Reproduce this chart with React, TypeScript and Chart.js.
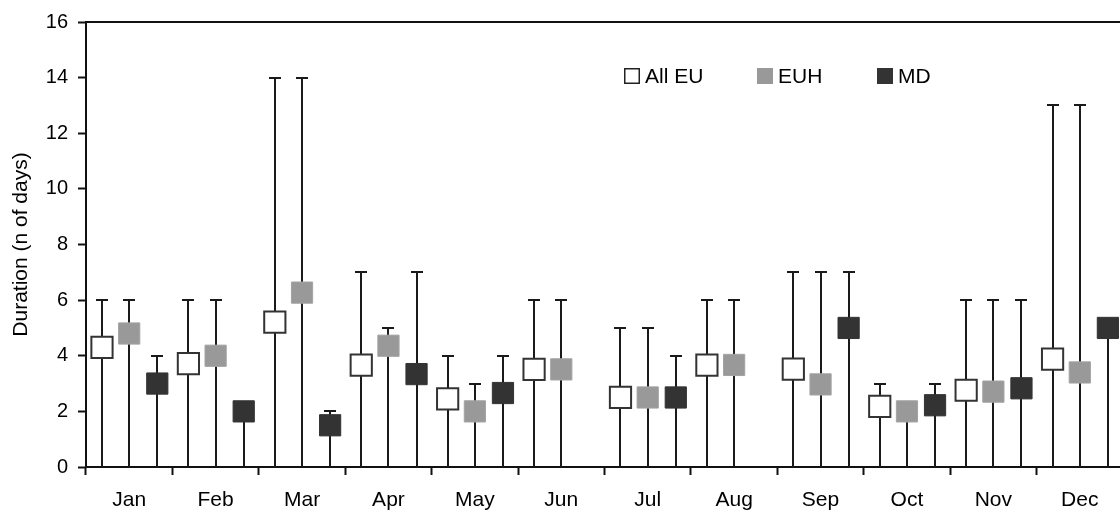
import React, { useEffect, useRef } from "react";
import { Chart, registerables } from "chart.js";

Chart.register(...registerables);

// ---- data ----
const months = ["Jan", "Feb", "Mar", "Apr", "May", "Jun", "Jul", "Aug", "Sep", "Oct", "Nov", "Dec"];
const seriesNames = ["All EU", "EUH", "MD"];

const allEU = [4.3, 3.72, 5.21, 3.66, 2.45, 3.51, 2.5, 3.66, 3.52, 2.18, 2.76, 3.88];
const allEUMax = [6, 6, 14, 7, 4, 6, 5, 6, 7, 3, 6, 13];

const euh = [4.8, 4.0, 6.27, 4.36, 2.0, 3.51, 2.5, 3.67, 2.97, 2.0, 2.71, 3.4];
const euhMax = [6, 6, 14, 5, 3, 6, 5, 6, 7, 2, 6, 13];

const md = [3.0, 2.0, 1.5, 3.34, 2.66, null, 2.5, null, 5.0, 2.22, 2.83, 5.0];
const mdMax = [4, 2, 2, 7, 4, null, 4, null, 7, 3, 6, 5];

const errLow = 0;
const yMin = 0;
const yMax = 16;
const yStep = 2;
const yTitle = "Duration (n of days)";

// ---- style / layout constants ----
const seriesOffsets = [-0.315, 0, 0.325];
const seriesFill = ["#ffffff", "#999999", "#333333"];
const seriesBorder = ["#333333", "#a3a3a3", "#333333"];
const seriesBorderWidth = [2, 1, 1];
const FONT = "'Liberation Sans', Arial, sans-serif";

const seriesValues = [allEU, euh, md];
const seriesMax = [allEUMax, euhMax, mdMax];

const errorBarPlugin = {
  id: "errorBars",
  beforeDatasetsDraw(chart: any) {
    const { ctx, chartArea } = chart;
    const xs = chart.scales.xv;
    const ys = chart.scales.y;
    ctx.save();
    // frame top / right
    ctx.strokeStyle = "#111";
    ctx.lineWidth = 2;
    ctx.beginPath();
    ctx.moveTo(chartArea.left, chartArea.top);
    ctx.lineTo(chartArea.right, chartArea.top);
    ctx.lineTo(chartArea.right, chartArea.bottom);
    ctx.stroke();

    ctx.strokeStyle = "#1a1a1a";
    ctx.lineWidth = 2;
    seriesValues.forEach((vals, si) => {
      vals.forEach((v, j) => {
        const hi = seriesMax[si][j];
        if (v == null || hi == null) return;
        const x = Math.round(xs.getPixelForValue(j + seriesOffsets[si]));
        const y0 = ys.getPixelForValue(errLow);
        const y1 = Math.round(ys.getPixelForValue(hi));
        ctx.beginPath();
        ctx.moveTo(x, y0);
        ctx.lineTo(x, y1);
        ctx.moveTo(x - 6, y1);
        ctx.lineTo(x + 6, y1);
        ctx.stroke();
      });
    });
    ctx.restore();
  },
};

const legendPlugin = {
  id: "customLegend",
  afterDraw(chart: any) {
    const { ctx } = chart;
    const boxX = [624, 757, 877];
    const cy = 76;
    ctx.save();
    ctx.font = `21px ${FONT}`;
    ctx.textBaseline = "middle";
    ctx.textAlign = "left";
    seriesNames.forEach((name, i) => {
      const bx = boxX[i];
      ctx.fillStyle = seriesFill[i];
      ctx.fillRect(bx, cy - 8, 16, 16);
      if (i === 0) {
        ctx.strokeStyle = "#222";
        ctx.lineWidth = 1.5;
        ctx.strokeRect(bx + 0.75, cy - 7.25, 14.5, 14.5);
      }
      ctx.fillStyle = "#000";
      ctx.fillText(name, bx + 21, cy + 1);
    });
    ctx.restore();
  },
};

export default function App() {
  const ref = useRef<HTMLCanvasElement>(null);

  useEffect(() => {
    if (!ref.current) return;
    const datasets = seriesNames.map((name, si) => ({
      label: name,
      data: seriesValues[si].map((v, j) => (v == null ? null : { x: j + seriesOffsets[si], y: v })).filter((p) => p !== null),
      xAxisID: "xv",
      yAxisID: "y",
      pointStyle: "rect",
      pointRadius: 15,
      pointHoverRadius: 15,
      backgroundColor: seriesFill[si],
      borderColor: seriesBorder[si],
      pointBorderWidth: seriesBorderWidth[si],
      borderWidth: seriesBorderWidth[si],
      showLine: false,
    }));

    const chart = new Chart(ref.current, {
      type: "scatter",
      data: { datasets: datasets as any },
      plugins: [errorBarPlugin, legendPlugin],
      options: {
        animation: false,
        responsive: false,
        font: { family: FONT },
        layout: { padding: { top: 22, right: 10, left: 0, bottom: 0 } },
        plugins: {
          legend: { display: false },
          tooltip: { enabled: false },
        },
        scales: {
          x: {
            type: "category",
            labels: months,
            offset: true,
            position: "bottom",
            afterFit: (s: any) => {
              s.height = 46;
            },
            grid: {
              display: true,
              offset: true,
              drawOnChartArea: false,
              drawTicks: true,
              tickLength: 8,
              tickColor: "#111",
              tickWidth: 2,
            },
            border: { display: true, color: "#111", width: 2 },
            ticks: {
              color: "#000",
              font: { family: FONT, size: 21 },
              padding: 13,
              maxRotation: 0,
              autoSkip: false,
            },
          },
          xv: {
            type: "linear",
            display: false,
            min: -0.5,
            max: 11.5,
          },
          y: {
            type: "linear",
            min: yMin,
            max: yMax,
            afterFit: (s: any) => {
              s.width = 86;
            },
            grid: {
              display: true,
              drawOnChartArea: false,
              tickLength: 8,
              tickColor: "#111",
              tickWidth: 2,
            },
            border: { display: true, color: "#111", width: 2 },
            ticks: {
              stepSize: yStep,
              color: "#000",
              font: { family: FONT, size: 20 },
              padding: 10,
            },
            title: {
              display: true,
              text: yTitle,
              color: "#000",
              font: { family: FONT, size: 21 },
              padding: { top: 9, bottom: 0 },
            },
          },
        },
      } as any,
    });
    return () => chart.destroy();
  }, []);

  return (
    <div style={{ position: "fixed", left: 0, top: 0, width: 1120, height: 513, overflow: "hidden", background: "#fff" }}>
      <canvas ref={ref} width={1140} height={513} style={{ display: "block", width: 1140, height: 513 }} />
    </div>
  );
}
